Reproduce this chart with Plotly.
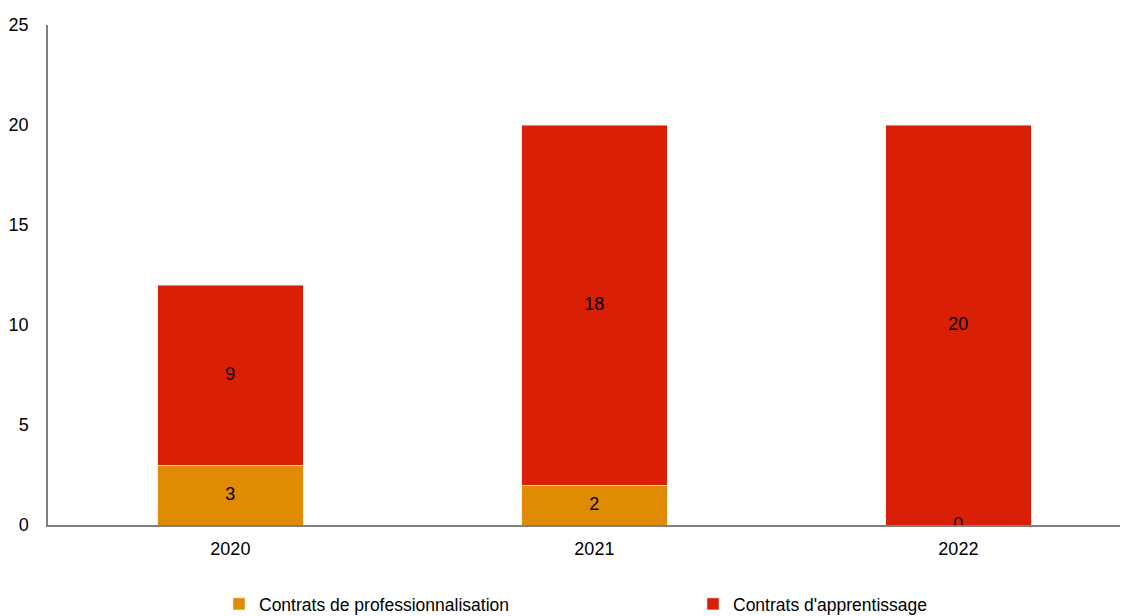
import plotly.graph_objects as go

years = ["2020", "2021", "2022"]
pro = [3, 2, 0]
app = [9, 18, 20]
names = ["Contrats de professionnalisation", "Contrats d'apprentissage"]
colors = ["#E18B05", "#D91F05"]

fig = go.Figure()
fig.add_trace(go.Bar(x=years, y=pro, name=names[0], marker_color=colors[0], width=0.4,
                     legend="legend"))
fig.add_trace(go.Bar(x=years, y=app, name=names[1], marker_color=colors[1], width=0.4,
                     legend="legend2"))
fig.add_trace(go.Scatter(x=years, y=[p / 2 for p in pro], text=[str(p) for p in pro],
                         mode="text", textposition="middle center", showlegend=False,
                         textfont=dict(size=18, color="black"), hoverinfo="skip"))
fig.add_trace(go.Scatter(x=years, y=[p + a / 2 for p, a in zip(pro, app)], text=[str(a) for a in app],
                         mode="text", textposition="middle center", showlegend=False,
                         textfont=dict(size=18, color="black"), hoverinfo="skip"))

leg_common = dict(orientation="h", xref="container", yref="container", yanchor="middle",
                  xanchor="left", y=1 - 596 / 616, itemwidth=30, font=dict(size=17.5),
                  bgcolor="rgba(0,0,0,0)")

fig.update_layout(
    width=1128, height=616,
    barmode="stack",
    plot_bgcolor="white", paper_bgcolor="white",
    font=dict(family="Liberation Sans, Arial, sans-serif", size=18, color="black"),
    margin=dict(l=40, r=0, t=17, b=99, autoexpand=False),
    xaxis=dict(type="category", range=[-0.501, 2.488], showline=True, linecolor="#7f7f7f",
               linewidth=1.5, ticks="", showgrid=False, zeroline=False, automargin=False,
               ticklabelstandoff=7),
    yaxis=dict(range=[0, 25], dtick=5, showline=True, linecolor="#7f7f7f", linewidth=1.5,
               ticks="", showgrid=False, zeroline=False, automargin=False,
               ticklabelstandoff=14),
    legend=dict(x=211 / 1128, **leg_common),
    legend2=dict(x=685 / 1128, **leg_common),
)
fig.write_html("out.html")
